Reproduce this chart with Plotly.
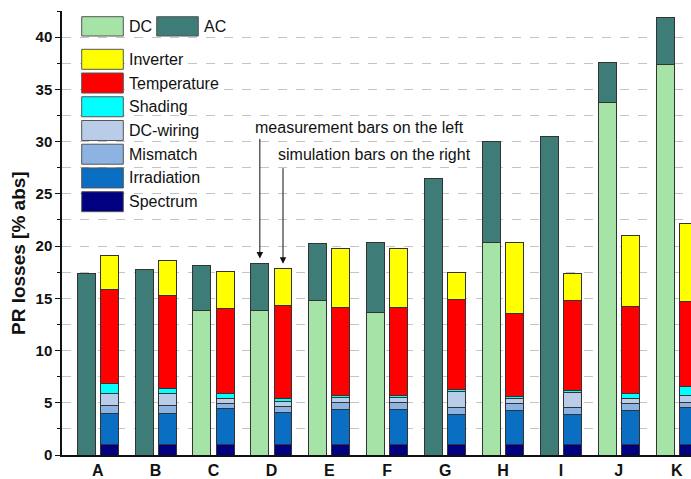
import plotly.graph_objects as go

# ---------------- data ----------------
categories = ["A", "B", "C", "D", "E", "F", "G", "H", "I", "J", "K"]

# measurement bars (left): DC part and total (DC + AC)
meas_dc = [None, None, 13.8, 13.8, 14.8, 13.6, None, 20.3, None, 33.7, 37.4]
meas_total = [17.4, 17.8, 18.1, 18.3, 20.2, 20.3, 26.5, 30.0, 30.5, 37.6, 41.9]

# simulation bars (right), stacked bottom -> top
spectrum = [1.05, 1.05, 1.05, 1.05, 1.05, 1.05, 1.05, 1.05, 1.05, 1.05, 1.00]
irradiation = [2.97, 2.97, 3.38, 3.06, 3.28, 3.28, 2.81, 3.19, 2.81, 3.19, 3.50]
mismatch = [0.70, 0.70, 0.48, 0.54, 0.65, 0.65, 0.64, 0.67, 0.64, 0.67, 0.57]
dc_wiring = [1.21, 1.15, 0.48, 0.48, 0.57, 0.57, 1.59, 0.48, 1.49, 0.49, 0.63]
shading = [0.96, 0.47, 0.48, 0.26, 0.15, 0.15, 0.16, 0.22, 0.19, 0.47, 0.86]
temperature = [8.93, 8.97, 8.13, 8.90, 8.42, 8.42, 8.68, 7.91, 8.61, 8.35, 8.14]
inverter = [3.28, 3.28, 3.61, 3.60, 5.69, 5.69, 2.58, 6.86, 2.63, 6.77, 7.43]

sim_series = [
    ("Spectrum", spectrum, "#000080"),
    ("Irradiation", irradiation, "#0A6FC2"),
    ("Mismatch", mismatch, "#8DB3E2"),
    ("DC-wiring", dc_wiring, "#B9CDE8"),
    ("Shading", shading, "#00FFFF"),
    ("Temperature", temperature, "#FF0000"),
    ("Inverter", inverter, "#FFFF00"),
]
DC_COLOR = "#A6E3A6"
AC_COLOR = "#3D7C77"
OUTLINE = "#333333"
FONT = "Arial, Liberation Sans, sans-serif"

# ---------------- geometry ----------------
W, H = 691, 479
ML, MR, MT, MB = 62, 0, 11, 24
PW, PH = W - ML - MR, H - MT - MB
SHIFT = 0.2
BW = 0.31

idx = list(range(len(categories)))
x_meas = [i - SHIFT for i in idx]
x_sim = [i + SHIFT for i in idx]
meas_ac = [t - (d or 0) for t, d in zip(meas_total, meas_dc)]

fig = go.Figure()
line = dict(color=OUTLINE, width=1)
fig.add_trace(go.Bar(x=x_meas, y=meas_dc, width=BW, name="DC",
                     marker=dict(color=DC_COLOR, line=line)))
fig.add_trace(go.Bar(x=x_meas, y=meas_ac, width=BW, name="AC",
                     marker=dict(color=AC_COLOR, line=line)))
for name, vals, col in sim_series:
    fig.add_trace(go.Bar(x=x_sim, y=vals, width=BW, name=name,
                         marker=dict(color=col, line=line)))


def px(xp):
    return (xp - ML) / PW


def py(yp):
    return (H - MB - yp) / PH


shapes = []
annotations = []

# white legend background (hides gridlines)
shapes.append(dict(type="rect", xref="paper", yref="paper", layer="between",
                   x0=px(75), x1=px(236), y0=py(216), y1=py(11),
                   fillcolor="white", line=dict(width=0)))

# legend: DC / AC row
for label, col, x0 in [("DC", DC_COLOR, 81.7), ("AC", AC_COLOR, 156.7)]:
    shapes.append(dict(type="rect", xref="paper", yref="paper",
                       x0=px(x0), x1=px(x0 + 41.6), y0=py(36), y1=py(16.7),
                       fillcolor=col, line=dict(color="#555555", width=1)))
    annotations.append(dict(xref="paper", yref="paper", x=px(x0 + 45), y=py(26.3),
                            text=label, showarrow=False, xanchor="left", yanchor="middle",
                            font=dict(family=FONT, size=16, color="#111111")))

legend_rows = ["Inverter", "Temperature", "Shading", "DC-wiring", "Mismatch",
               "Irradiation", "Spectrum"]
colors = {n: c for n, _, c in sim_series}
for k, name in enumerate(legend_rows):
    top = 49.3 + k * 23.73
    shapes.append(dict(type="rect", xref="paper", yref="paper",
                       x0=px(81.7), x1=px(123.3), y0=py(top + 20), y1=py(top),
                       fillcolor=colors[name], line=dict(color="#555555", width=1)))
    annotations.append(dict(xref="paper", yref="paper", x=px(127), y=py(top + 10),
                            text=name, showarrow=False, xanchor="left", yanchor="middle",
                            font=dict(family=FONT, size=16, color="#111111")))

# explanatory texts and arrows
annotations.append(dict(xref="paper", yref="paper", x=px(253), y=py(127.3),
                        text="measurement bars on the left", showarrow=False,
                        xanchor="left", yanchor="middle",
                        font=dict(family=FONT, size=16, color="#111111")))
annotations.append(dict(xref="paper", yref="paper", x=px(276), y=py(154.3),
                        text="simulation bars on the right", showarrow=False,
                        xanchor="left", yanchor="middle",
                        font=dict(family=FONT, size=16, color="#111111")))
annotations.append(dict(x=3 - SHIFT, y=18.8, ax=3 - SHIFT, ay=30.4, axref="x", ayref="y",
                        xref="x", yref="y", text="", showarrow=True,
                        arrowhead=2, arrowsize=1.3, arrowwidth=1, arrowcolor="#111111"))
annotations.append(dict(x=3 + SHIFT, y=18.3, ax=3 + SHIFT, ay=27.6, axref="x", ayref="y",
                        xref="x", yref="y", text="", showarrow=True,
                        arrowhead=2, arrowsize=1.3, arrowwidth=1, arrowcolor="#111111"))

# y-axis title
annotations.append(dict(xref="paper", yref="paper", x=px(18), y=py(253),
                        text="<b>PR losses [% abs]</b>", showarrow=False, textangle=-90,
                        xanchor="center", yanchor="middle",
                        font=dict(family=FONT, size=19, color="#111111")))

fig.update_layout(
    width=W, height=H,
    margin=dict(l=ML, r=MR, t=MT, b=MB, pad=0, autoexpand=False),
    barmode="stack",
    showlegend=False,
    plot_bgcolor="white", paper_bgcolor="white",
    shapes=shapes, annotations=annotations,
    font=dict(family=FONT, color="#111111"),
)
fig.update_xaxes(
    range=[-0.617, 10.247], tickvals=idx, ticktext=[f"<b>{c}</b>" for c in categories],
    tickfont=dict(family=FONT, size=16, color="#111111"),
    showline=True, linecolor="#111111", linewidth=1.5, ticks="", showgrid=False,
    zeroline=False, ticklabelstandoff=0, automargin=False,
)
fig.update_yaxes(
    range=[0, 42.5], dtick=5, tick0=0,
    tickfont=dict(family=FONT, size=15, color="#111111"),
    tickprefix="<b>", ticksuffix="</b>",
    showline=True, linecolor="#111111", linewidth=1.5,
    ticks="outside", ticklen=5, tickwidth=1, tickcolor="#111111",
    showgrid=True, gridcolor="#C4C4C4", griddash="dash", gridwidth=1,
    zeroline=False, automargin=False,
    minor=dict(dtick=2.5, ticks="outside", ticklen=3, tickcolor="#111111",
               showgrid=True, gridcolor="#C4C4C4", griddash="dash", gridwidth=1),
)

fig.write_html(
    "out.html",
    config={"displayModeBar": False},
    post_script="document.body.style.margin='0px';document.body.style.overflow='hidden';",
)
